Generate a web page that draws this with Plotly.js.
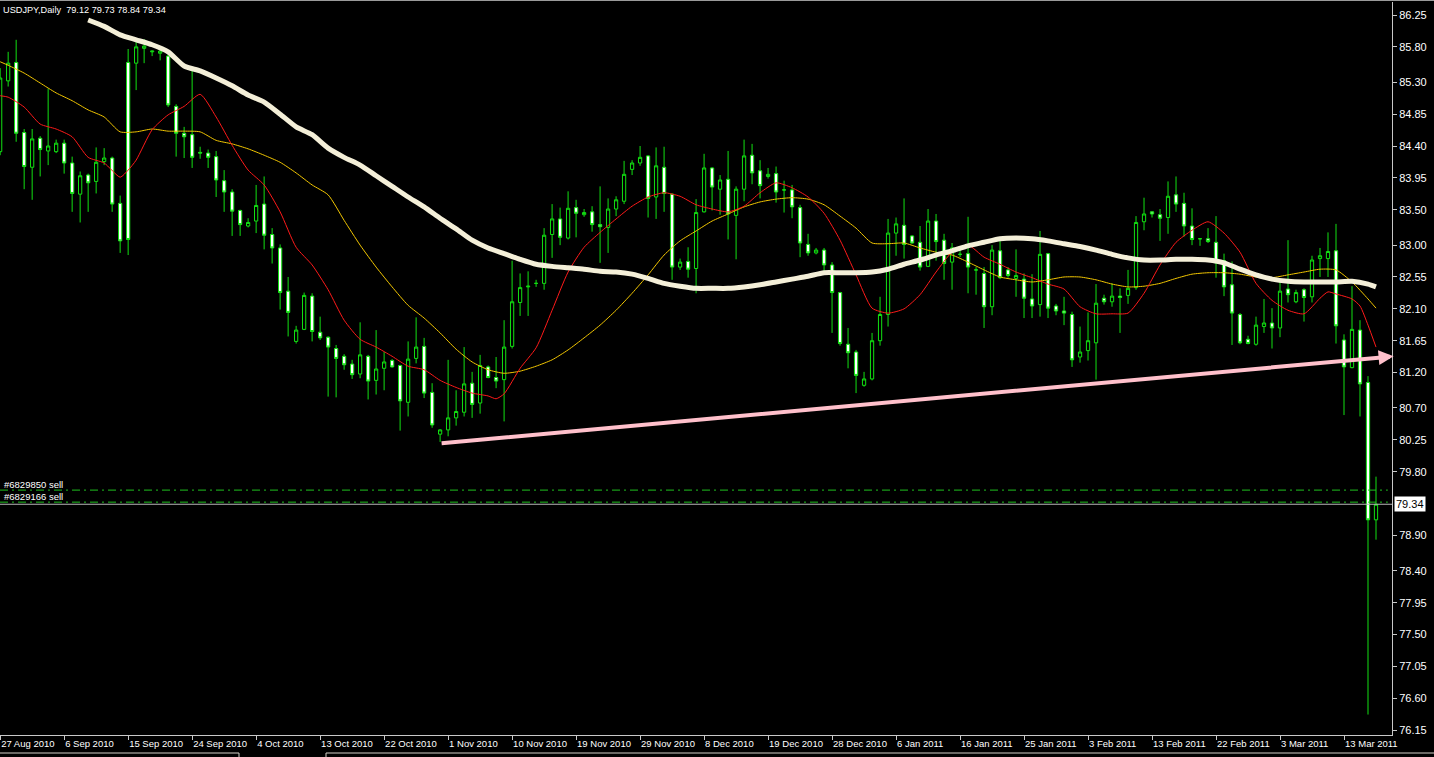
<!DOCTYPE html>
<html>
<head>
<meta charset="utf-8">
<script src="https://cdn.plot.ly/plotly-3.0.1.min.js"></script>
<style>
html,body{margin:0;padding:0;background:#000;overflow:hidden}
#chart{width:1434px;height:757px}
</style>
</head>
<body>
<div id="chart"></div>
<script>
// ---------------- data ----------------
const symbol = "USDJPY";
const timeframe = "Daily";

// date labels of the time scale and the bar index each one sits on
const dateTickBars = [-1, 7, 15, 23, 31, 39, 47, 55, 63, 71, 79, 87, 95, 103, 111, 119, 127, 135, 143, 151, 159, 167];
const dateTickLabels = ["27 Aug 2010", "6 Sep 2010", "15 Sep 2010", "24 Sep 2010", "4 Oct 2010", "13 Oct 2010",
  "22 Oct 2010", "1 Nov 2010", "10 Nov 2010", "19 Nov 2010", "29 Nov 2010", "8 Dec 2010", "19 Dec 2010",
  "28 Dec 2010", "6 Jan 2011", "16 Jan 2011", "25 Jan 2011", "3 Feb 2011", "13 Feb 2011", "22 Feb 2011",
  "3 Mar 2011", "13 Mar 2011"];

// price scale labels
const priceTickLabels = ["86.25", "85.80", "85.30", "84.85", "84.40", "83.95", "83.50", "83.00", "82.55", "82.10",
  "81.65", "81.20", "80.70", "80.25", "79.80", "78.90", "78.40", "77.95", "77.50", "77.05", "76.60", "76.15"];

// daily candles (first bar is index -1)
const open = [84.32, 85.32, 85.58, 84.59, 84.10, 84.51, 84.33, 84.32, 84.44, 84.16, 83.72, 83.99, 83.90, 84.18, 84.23, 83.59,
  85.58, 85.57, 85.78, 85.73, 85.71, 85.67, 84.96, 84.58, 84.56, 84.31, 84.30, 84.25, 83.91, 83.75, 83.49, 83.27,
  83.34, 83.58, 83.15, 82.96, 82.35, 81.64, 81.81, 82.28, 81.77, 81.70, 81.54, 81.43, 81.32, 81.18, 81.43, 81.09,
  81.26, 81.37, 81.30, 80.78, 81.40, 81.57, 80.92, 80.33, 80.39, 80.56, 80.64, 81.05, 80.77, 81.28, 81.13, 81.10,
  81.57, 82.19, 82.41, 82.46, 82.46, 83.15, 83.37, 83.10, 83.53, 83.43, 83.47, 83.29, 83.25, 83.51, 83.62, 84.07,
  84.16, 84.26, 83.68, 84.10, 83.72, 82.69, 82.77, 82.67, 83.47, 84.09, 83.79, 83.93, 83.42, 83.79, 84.27, 84.05,
  83.97, 84.01, 83.78, 83.78, 83.53, 83.01, 82.89, 82.93, 82.72, 82.33, 81.60, 81.49, 81.02, 81.11, 81.65, 82.02,
  83.17, 83.28, 83.13, 83.04, 82.70, 83.34, 83.07, 82.76, 82.87, 82.88, 82.65, 82.60, 82.13, 82.92, 82.65, 82.53,
  82.52, 82.24, 82.16, 82.88, 82.14, 82.07, 82.02, 81.42, 81.51, 81.62, 82.25, 82.20, 82.28, 82.29, 82.40, 83.33,
  83.47, 83.43, 83.39, 83.71, 83.59, 83.27, 83.09, 83.09, 83.04, 82.78, 82.44, 82.02, 81.67, 81.60, 81.85, 81.90,
  81.83, 82.38, 82.20, 82.37, 82.27, 82.81, 82.81, 82.92, 81.66, 81.27, 81.80, 81.06, 79.12];
const high = [85.50, 85.73, 85.90, 84.64, 84.64, 84.54, 85.21, 84.49, 84.49, 84.25, 84.04, 84.01, 84.38, 84.37, 84.25, 83.70,
  85.77, 85.91, 85.91, 85.75, 85.80, 85.69, 84.99, 84.67, 85.51, 84.39, 84.35, 84.33, 84.06, 83.79, 83.50, 83.38,
  83.85, 83.97, 83.24, 83.01, 82.55, 81.86, 82.33, 82.32, 81.99, 81.71, 81.59, 81.46, 81.38, 81.91, 81.45, 81.80,
  81.49, 81.39, 81.31, 81.64, 81.98, 81.69, 81.05, 80.40, 81.38, 80.95, 81.56, 81.21, 81.45, 81.30, 81.42, 81.94,
  82.78, 82.60, 82.63, 82.51, 83.24, 83.58, 83.53, 83.76, 83.64, 83.51, 83.55, 83.83, 83.66, 83.69, 84.19, 84.20,
  84.40, 84.27, 84.38, 84.39, 83.73, 82.81, 82.97, 83.65, 84.29, 84.10, 83.99, 84.33, 83.83, 84.49, 84.43, 84.20,
  84.09, 84.11, 83.91, 83.85, 83.57, 83.16, 82.96, 82.96, 82.76, 82.34, 81.83, 81.52, 81.21, 81.76, 82.27, 83.37,
  83.39, 83.66, 83.14, 83.27, 83.51, 83.44, 83.16, 83.03, 82.96, 83.40, 82.69, 82.69, 83.00, 83.11, 82.69, 82.94,
  82.60, 82.59, 83.20, 82.89, 82.17, 82.27, 82.06, 81.85, 82.05, 82.45, 82.30, 82.46, 82.39, 82.65, 83.41, 83.67,
  83.48, 83.51, 83.90, 83.97, 83.74, 83.52, 83.10, 83.24, 83.41, 82.88, 82.77, 82.04, 81.72, 81.99, 82.24, 82.11,
  82.51, 83.07, 82.37, 82.39, 82.85, 82.96, 83.18, 83.30, 81.74, 82.42, 81.94, 81.15, 79.73];
const low = [84.27, 85.24, 84.46, 83.79, 83.64, 83.97, 84.13, 84.30, 84.01, 83.47, 83.32, 83.47, 83.73, 84.13, 83.47, 82.89,
  82.86, 85.19, 85.57, 85.67, 85.61, 84.95, 84.25, 84.23, 84.09, 84.22, 84.09, 83.68, 83.47, 83.13, 83.13, 83.25,
  83.17, 82.94, 82.74, 82.09, 81.71, 81.61, 81.80, 81.64, 81.66, 80.86, 80.85, 81.24, 81.11, 81.12, 80.82, 80.89,
  80.95, 81.27, 80.38, 80.58, 81.33, 80.84, 80.42, 80.22, 80.30, 80.45, 80.58, 80.56, 80.62, 81.12, 80.98, 80.51,
  81.54, 82.00, 82.00, 82.41, 82.37, 82.82, 83.00, 83.08, 83.11, 83.40, 83.19, 82.75, 82.89, 83.41, 83.58, 83.99,
  84.12, 83.39, 83.37, 83.47, 82.51, 82.65, 82.54, 82.32, 83.46, 83.49, 83.43, 83.08, 82.80, 83.62, 83.86, 83.66,
  83.94, 83.60, 83.46, 83.38, 82.83, 82.85, 82.87, 82.60, 81.76, 81.58, 81.26, 80.91, 81.00, 81.09, 81.58, 81.85,
  82.85, 82.81, 83.02, 82.64, 82.69, 82.78, 82.51, 82.37, 82.83, 82.32, 82.30, 81.83, 82.01, 82.52, 82.54, 82.27,
  81.97, 81.97, 81.99, 81.97, 82.01, 81.87, 81.28, 81.34, 81.37, 81.10, 82.16, 82.13, 81.76, 82.17, 82.37, 83.21,
  83.39, 83.06, 83.16, 83.47, 83.12, 83.00, 82.99, 83.03, 82.54, 82.28, 81.59, 81.60, 81.60, 81.58, 81.76, 81.54,
  81.70, 82.19, 82.18, 81.92, 82.19, 82.55, 82.55, 81.61, 80.60, 81.26, 80.58, 76.37, 78.84];
const close = [85.36, 85.57, 84.58, 84.11, 84.50, 84.35, 84.40, 84.44, 84.16, 83.73, 83.98, 83.88, 84.17, 84.23, 83.58, 83.06,
  83.08, 85.80, 85.81, 85.74, 85.74, 84.98, 84.58, 84.53, 84.24, 84.30, 84.24, 83.92, 83.75, 83.48, 83.29, 83.32,
  83.56, 83.14, 82.96, 82.33, 82.05, 81.80, 82.29, 81.78, 81.69, 81.56, 81.40, 81.31, 81.17, 81.45, 81.08, 81.25,
  81.35, 81.28, 80.80, 81.39, 81.56, 80.91, 80.46, 80.39, 80.56, 80.65, 81.04, 80.75, 81.30, 81.13, 81.08, 81.56,
  82.20, 82.40, 82.42, 82.46, 83.14, 83.37, 83.11, 83.52, 83.45, 83.46, 83.29, 83.26, 83.51, 83.64, 84.00, 84.16,
  84.24, 83.66, 84.12, 83.73, 82.69, 82.76, 82.66, 83.46, 84.09, 83.82, 83.92, 83.44, 83.79, 84.26, 84.02, 83.84,
  84.00, 83.75, 83.78, 83.54, 83.03, 82.89, 82.93, 82.72, 82.33, 81.61, 81.48, 81.16, 81.11, 81.65, 82.02, 83.17,
  83.30, 83.01, 83.03, 82.69, 83.34, 83.05, 82.74, 82.96, 82.87, 82.69, 82.65, 82.13, 82.93, 82.54, 82.57, 82.57,
  82.25, 82.14, 82.87, 82.11, 82.07, 82.04, 81.38, 81.49, 81.65, 82.18, 82.20, 82.28, 82.26, 82.39, 83.32, 83.44,
  83.44, 83.38, 83.69, 83.58, 83.27, 83.08, 83.09, 83.05, 82.75, 82.41, 82.04, 81.62, 81.61, 81.87, 81.90, 81.83,
  82.35, 82.30, 82.33, 82.26, 82.79, 82.85, 82.91, 81.86, 81.28, 81.81, 81.04, 79.12, 79.34];

// moving averages (bar index, value)
const redMaBars = [-1, 0, 2, 4, 6, 8, 10, 12, 14, 15, 16, 18, 20, 22, 24, 26, 28, 30, 32, 34, 36, 38, 40, 42, 44, 46, 48,
  50, 52, 54, 56, 58, 60, 61, 62, 64, 66, 68, 70, 72, 74, 76, 78, 80, 82, 84, 86, 88, 90, 92, 94, 96, 98, 100, 102,
  104, 106, 108, 110, 112, 114, 116, 118, 120, 122, 124, 126, 128, 130, 132, 134, 136, 138, 140, 142, 144, 146, 148,
  150, 152, 154, 156, 158, 160, 162, 164, 165, 166, 168, 169, 170, 171];
const redMa = [85.11, 85.09, 84.95, 84.71, 84.64, 84.53, 84.24, 84.16, 83.96, 84.06, 84.20, 84.63, 84.84, 84.96, 85.13,
  84.81, 84.41, 84.06, 83.85, 83.47, 82.97, 82.72, 82.37, 81.94, 81.67, 81.56, 81.43, 81.29, 81.24, 81.09, 80.99,
  80.91, 80.87, 80.83, 80.90, 81.26, 81.55, 82.08, 82.62, 82.97, 83.18, 83.37, 83.55, 83.68, 83.74, 83.69, 83.57,
  83.51, 83.47, 83.55, 83.74, 83.88, 83.81, 83.68, 83.45, 83.07, 82.58, 82.11, 82.04, 82.10, 82.30, 82.62, 82.90,
  83.00, 82.83, 82.73, 82.62, 82.54, 82.45, 82.38, 82.13, 82.03, 82.03, 82.04, 82.32, 82.72, 83.04, 83.21, 83.33,
  83.17, 82.90, 82.46, 82.22, 82.08, 82.03, 82.25, 82.34, 82.31, 82.24, 82.14, 81.87, 81.56];

const yellowMaBars = [-1, 0, 2, 4, 6, 8, 10, 12, 14, 16, 18, 20, 22, 24, 26, 28, 30, 32, 34, 36, 38, 40, 42, 44, 46, 48,
  50, 52, 54, 56, 58, 60, 62, 64, 66, 68, 70, 72, 74, 76, 78, 80, 82, 84, 86, 88, 90, 92, 94, 96, 98, 100, 102, 104,
  106, 108, 110, 112, 114, 116, 118, 120, 122, 124, 126, 128, 130, 132, 134, 136, 138, 140, 142, 144, 146, 148, 150,
  152, 154, 156, 158, 160, 162, 164, 166, 168, 170, 171];
const yellowMa = [85.59, 85.54, 85.43, 85.29, 85.15, 85.04, 84.91, 84.81, 84.60, 84.60, 84.64, 84.61, 84.61, 84.60,
  84.48, 84.43, 84.36, 84.27, 84.17, 84.02, 83.85, 83.71, 83.35, 83.00, 82.69, 82.41, 82.15, 81.97, 81.76, 81.53,
  81.35, 81.24, 81.19, 81.22, 81.29, 81.38, 81.52, 81.69, 81.87, 82.08, 82.32, 82.58, 82.86, 83.06, 83.20, 83.34,
  83.44, 83.54, 83.61, 83.65, 83.67, 83.65, 83.57, 83.41, 83.24, 83.03, 83.02, 83.03, 82.96, 82.90, 82.86, 82.76,
  82.65, 82.55, 82.51, 82.48, 82.51, 82.55, 82.55, 82.51, 82.45, 82.41, 82.42, 82.46, 82.53, 82.59, 82.61, 82.61,
  82.59, 82.55, 82.54, 82.58, 82.62, 82.66, 82.65, 82.48, 82.24, 82.11];

// long MA: its earlier part runs behind the chart caption / off the top
const whiteMaBars = [10, 12, 14, 16, 18, 20, 22, 24, 26, 28, 30, 32, 34, 36, 38, 40, 42, 44, 46, 48, 50, 52, 54,
  56, 58, 60, 62, 64, 66, 68, 70, 72, 74, 76, 78, 80, 82, 84, 86, 88, 90, 92, 94, 96, 98, 100, 102, 104, 106, 108,
  110, 112, 114, 116, 118, 120, 122, 124, 126, 128, 130, 132, 134, 136, 138, 140, 142, 144, 146, 148, 150, 152, 154,
  156, 158, 160, 162, 164, 166, 168, 170, 171];
const whiteMa = [86.18, 86.09, 85.97, 85.90, 85.83, 85.73, 85.53, 85.46, 85.36, 85.25, 85.12, 85.02,
  84.85, 84.67, 84.56, 84.37, 84.24, 84.13, 83.98, 83.83, 83.68, 83.54, 83.38, 83.23, 83.07, 82.96, 82.88, 82.80,
  82.73, 82.70, 82.68, 82.66, 82.63, 82.62, 82.59, 82.53, 82.46, 82.42, 82.39, 82.39, 82.39, 82.41, 82.44, 82.48,
  82.52, 82.56, 82.61, 82.61, 82.61, 82.62, 82.66, 82.73, 82.79, 82.86, 82.92, 82.99, 83.04, 83.09, 83.10, 83.09,
  83.06, 83.02, 82.98, 82.93, 82.87, 82.82, 82.79, 82.79, 82.80, 82.80, 82.79, 82.75, 82.66, 82.58, 82.52, 82.49,
  82.48, 82.48, 82.48, 82.49, 82.45, 82.41];

// trend line (bar index, price) from start to arrow tip
const trendBars = [54, 173.2];
const trendPrices = [80.20, 81.43];

// open orders shown as horizontal lines
const orderLabels = ["#6829850 sell", "#6829166 sell"];
const orderPrices = [79.54, 79.37];

// ---------------- drawing ----------------
const FONT = "Liberation Sans, Arial, sans-serif";
const GREEN = "#12e012";
const bars = open.map((_, i) => i - 1);
const last = close.length - 1;
const lastPrice = close[last];

// plot area in pixels: x 0..1392, y 2..735
const PLOT_W = 1392, PLOT_TOP = 2, PLOT_BOTTOM = 735, FIG_W = 1434, FIG_H = 757;
const PLOT_H = PLOT_BOTTOM - PLOT_TOP;
const py = px => (PLOT_BOTTOM - px) / PLOT_H;   // pixel row -> paper y
const pxx = px => px / PLOT_W;                  // pixel col -> paper x

const traces = [
  {
    type: "candlestick",
    x: bars, open: open, high: high, low: low, close: close,
    increasing: {line: {color: GREEN, width: 1}, fillcolor: "#000000"},
    decreasing: {line: {color: GREEN, width: 1}, fillcolor: "#ffffff"},
    whiskerwidth: 0,
    hoverinfo: "skip",
    showlegend: false
  },
  {
    type: "scatter", mode: "lines", x: yellowMaBars, y: yellowMa,
    line: {color: "#f2c600", width: 1, shape: "spline", smoothing: 0.6},
    hoverinfo: "skip", showlegend: false
  },
  {
    type: "scatter", mode: "lines", x: redMaBars, y: redMa,
    line: {color: "#ff1a1a", width: 1, shape: "spline", smoothing: 0.6},
    hoverinfo: "skip", showlegend: false
  },
  {
    type: "scatter", mode: "lines", x: whiteMaBars, y: whiteMa,
    line: {color: "#f4efd8", width: 5, shape: "spline", smoothing: 0.6},
    hoverinfo: "skip", showlegend: false
  }
];

const shapes = [];
// order lines
orderPrices.forEach(p => shapes.push({
  type: "line", xref: "paper", yref: "y", x0: 0, x1: 0.997, y0: p, y1: p,
  line: {color: "#1fc21f", width: 1, dash: "8px,4px,2px,4px"}
}));
// bid line
shapes.push({
  type: "line", xref: "paper", yref: "y", x0: 0, x1: 1, y0: lastPrice, y1: lastPrice,
  line: {color: "#b8b8b8", width: 1}
});
// window border at top and tab bar at bottom
shapes.push({type: "line", xref: "paper", yref: "paper", x0: 0, x1: FIG_W / PLOT_W, y0: py(0.5), y1: py(0.5),
  line: {color: "#9a9a9a", width: 1}});
shapes.push({type: "path", xref: "paper", yref: "paper",
  path: `M0,${py(753)} L${pxx(239)},${py(753)} L${pxx(239)},${py(757)}`, line: {color: "#d4d0c8", width: 1}});
shapes.push({type: "path", xref: "paper", yref: "paper",
  path: `M${pxx(326)},${py(757)} L${pxx(326)},${py(753)} L${FIG_W / PLOT_W},${py(753)}`, line: {color: "#d4d0c8", width: 1}});

const annotations = [];
// order labels
orderLabels.forEach((t, i) => annotations.push({
  xref: "paper", yref: "y", x: 0.002, y: orderPrices[i], xanchor: "left", yanchor: "bottom",
  text: t, showarrow: false, font: {family: FONT, size: 9.5, color: "#ffffff"}, borderpad: 0, yshift: -1
}));
// current price box
annotations.push({
  xref: "paper", yref: "y", x: 1, y: lastPrice, xanchor: "left", yanchor: "middle", xshift: 2,
  text: lastPrice.toFixed(2), showarrow: false, bgcolor: "#ffffff",
  font: {family: FONT, size: 11, color: "#000000"}, borderpad: 1
});
// trend line with arrow
annotations.push({
  xref: "x", yref: "y", axref: "x", ayref: "y",
  x: trendBars[1], y: trendPrices[1], ax: trendBars[0], ay: trendPrices[0],
  text: "", showarrow: true, arrowhead: 2, arrowsize: 0.75, arrowwidth: 4, arrowcolor: "#ffc0cb", standoff: 0
});

const titleText = `${symbol},${timeframe}\u00a0 ${open[last].toFixed(2)} ${high[last].toFixed(2)} ${low[last].toFixed(2)} ${close[last].toFixed(2)}`;

const layout = {
  width: FIG_W, height: FIG_H,
  margin: {l: 0, r: FIG_W - PLOT_W, t: PLOT_TOP, b: FIG_H - PLOT_BOTTOM, pad: 0},
  paper_bgcolor: "#000000", plot_bgcolor: "#000000",
  showlegend: false,
  title: {
    text: titleText, x: 3 / FIG_W, xanchor: "left", xref: "container",
    y: 1 - 10 / FIG_H, yanchor: "middle", yref: "container",
    font: {family: FONT, size: 9.2, color: "#ffffff"}, pad: {t: 0, b: 0, l: 0, r: 0}
  },
  xaxis: {
    type: "linear", range: [-1.02, 173], fixedrange: true,
    rangeslider: {visible: false},
    showgrid: false, zeroline: false,
    showline: true, linecolor: "#c8c8c8", linewidth: 1,
    tickmode: "array", tickvals: dateTickBars, ticktext: dateTickLabels,
    tickangle: 0, automargin: false,
    ticks: "outside", ticklen: 4, tickcolor: "#c8c8c8", tickwidth: 1,
    ticklabelposition: "outside right",
    tickfont: {family: FONT, size: 9.5, color: "#ffffff"}
  },
  yaxis: {
    side: "right", range: [76.081, 86.434], fixedrange: true,
    showgrid: false, zeroline: false, automargin: false,
    showline: true, linecolor: "#c8c8c8", linewidth: 1,
    tickmode: "array", tickvals: priceTickLabels.map(Number), ticktext: priceTickLabels,
    ticks: "outside", ticklen: 4, tickcolor: "#c8c8c8", tickwidth: 1,
    tickfont: {family: FONT, size: 11, color: "#ffffff"}
  },
  boxgap: 0.42,
  shapes: shapes,
  annotations: annotations
};

Plotly.newPlot("chart", traces, layout, {staticPlot: true, displayModeBar: false});
</script>
</body>
</html>
